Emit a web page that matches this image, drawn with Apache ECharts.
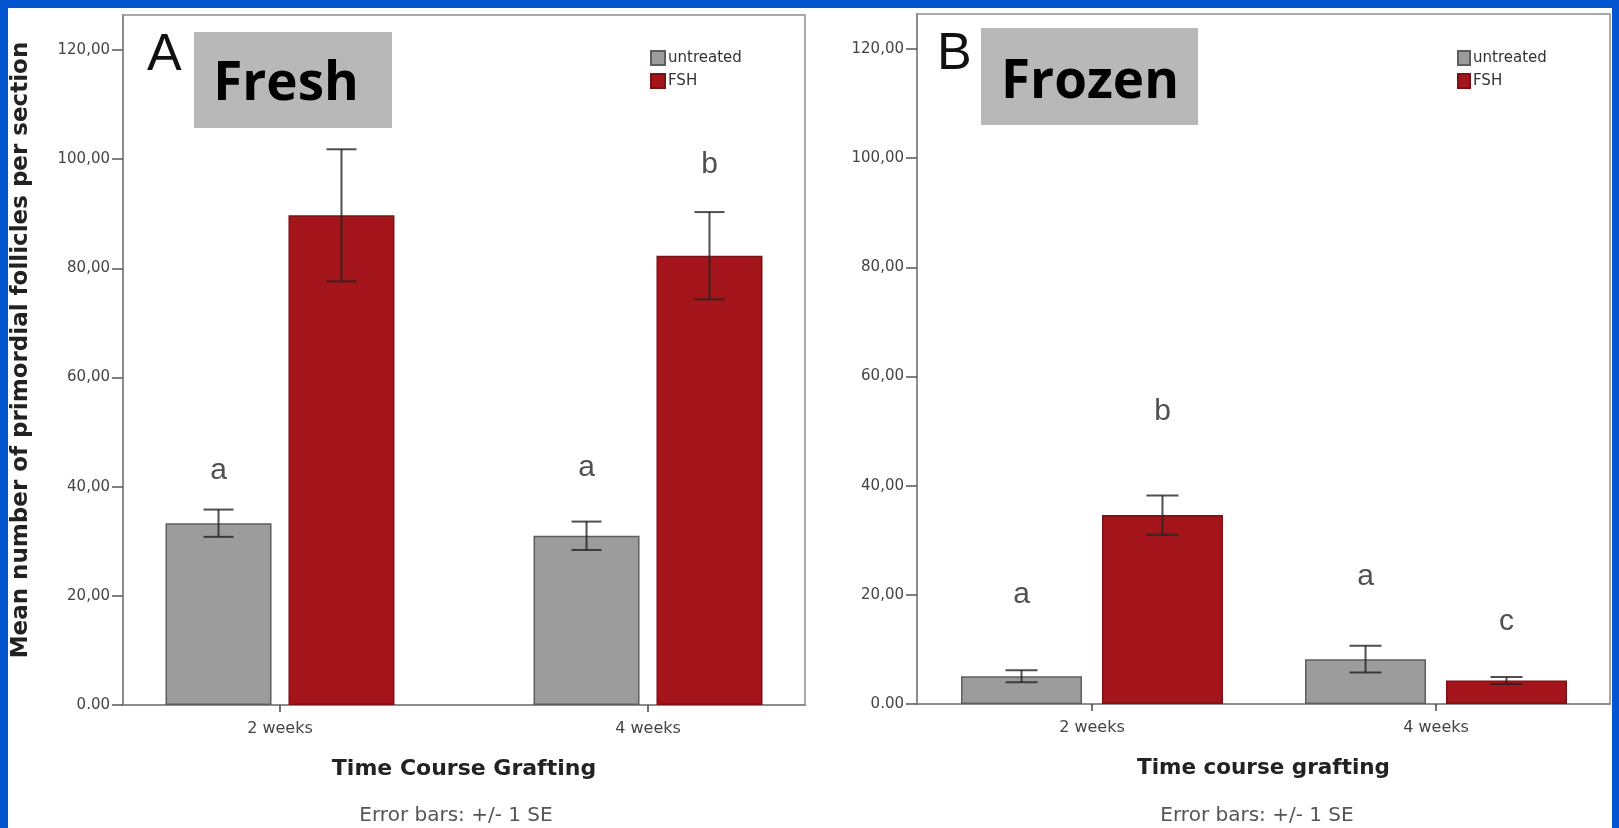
<!DOCTYPE html>
<html><head><meta charset="utf-8">
<script src="https://cdn.jsdelivr.net/npm/echarts@6/dist/echarts.min.js"></script>
<style>html,body{margin:0;padding:0;background:#fff;overflow:hidden} #c{width:1619px;height:828px;}</style>
</head><body><div id="c"></div>
<script>
// ---------- data ----------
const categories = ['2 weeks', '4 weeks'];
const yTickValues = [0, 20, 40, 60, 80, 100, 120];
const yTickLabels = ['0.00', '20,00', '40,00', '60,00', '80,00', '100,00', '120,00'];
const seriesNames = ['untreated', 'FSH'];

const freshUntreatedMean = [33.3, 31.0];
const freshUntreatedSE = [2.5, 2.6];
const freshFSHMean = [89.7, 82.3];
const freshFSHSE = [12.1, 8.0];
const freshUntreatedLetters = ['a', 'a'];
const freshUntreatedLetterY = [42.9, 43.4];
const freshFSHLetters = ['', 'b'];
const freshFSHLetterY = [null, 98.9];

const frozenUntreatedMean = [5.1, 8.2];
const frozenUntreatedSE = [1.1, 2.45];
const frozenFSHMean = [34.6, 4.3];
const frozenFSHSE = [3.6, 0.65];
const frozenUntreatedLetters = ['a', 'a'];
const frozenUntreatedLetterY = [20.0, 23.3];
const frozenFSHLetters = ['b', 'c'];
const frozenFSHLetterY = [53.6, 15.0];

const panelLetters = ['A', 'B'];
const panelTitles = ['Fresh', 'Frozen'];
const xAxisTitles = ['Time Course Grafting', 'Time course grafting'];
const yAxisTitle = 'Mean number of primordial follicles per section';
const errorNote = 'Error bars: +/- 1 SE';

// ---------- styling / layout ----------
const BLUE = '#0254d0';
const GRAY = '#9c9c9c', GRAY_B = '#5e5e5e';
const RED = '#a3151b', RED_B = '#7d1015';
const FRAME = '#a9a9a9';
const AXIS = '#8c8c8c';
const YMAX = 126.4;

const panels = [
  { grid: { left: 123, top: 15, width: 682, height: 690 }, xMin: -0.4266, xMax: 1.4266,
    barWidth: 106, barGap: 0.16, capW: 30, legend: { left: 650, top: 50 },
    um: freshUntreatedMean, us: freshUntreatedSE, fm: freshFSHMean, fs: freshFSHSE,
    ul: freshUntreatedLetters, uly: freshUntreatedLetterY, fl: freshFSHLetters, fly: freshFSHLetterY,
    nameSize: 22 },
  { grid: { left: 917, top: 14, width: 693, height: 690 }, xMin: -0.5087, xMax: 1.5058,
    barWidth: 121, barGap: 0.165, capW: 32, legend: { left: 1457, top: 50 },
    um: frozenUntreatedMean, us: frozenUntreatedSE, fm: frozenFSHMean, fs: frozenFSHSE,
    ul: frozenUntreatedLetters, uly: frozenUntreatedLetterY, fl: frozenFSHLetters, fly: frozenFSHLetterY,
    nameSize: 21.5 }
];

const grids = [], xAxes = [], yAxes = [], series = [], legends = [];

panels.forEach((p, gi) => {
  grids.push(Object.assign({ show: true, borderColor: FRAME, borderWidth: 2, backgroundColor: '#fff', containLabel: false }, p.grid));
  xAxes.push({
    type: 'value', gridIndex: gi, min: p.xMin, max: p.xMax,
    name: xAxisTitles[gi], nameLocation: 'middle', nameGap: 53,
    nameTextStyle: { fontFamily: 'DejaVu Sans', fontWeight: 'bold', fontSize: p.nameSize, color: '#222' },
    axisLine: { show: true, onZero: false, lineStyle: { color: AXIS, width: 2 } },
    axisTick: { show: true, customValues: [0, 1], length: 7, lineStyle: { color: '#444', width: 1.5 } },
    axisLabel: { customValues: [0, 1], margin: 16, fontFamily: 'DejaVu Sans', fontSize: 16, color: '#444',
      formatter: v => categories[Math.round(v)] },
    splitLine: { show: false }
  });
  yAxes.push({
    type: 'value', gridIndex: gi, min: 0, max: YMAX,
    axisLine: { show: true, onZero: false, lineStyle: { color: AXIS, width: 2 } },
    axisTick: { show: true, customValues: yTickValues, length: 11, lineStyle: { color: '#555', width: 1.5 } },
    axisLabel: { customValues: yTickValues, margin: 13, fontFamily: 'DejaVu Sans', fontSize: 15, color: '#444',
      formatter: v => yTickLabels[yTickValues.indexOf(Math.round(v))] },
    splitLine: { show: false }
  });
  const bw = p.barWidth;
  series.push({
    name: seriesNames[0], type: 'bar', xAxisIndex: gi, yAxisIndex: gi,
    barWidth: bw, barGap: (p.barGap * 100) + '%',
    itemStyle: { color: GRAY, borderColor: GRAY_B, borderWidth: 1.5 },
    data: p.um.map((v, i) => [i, v])
  });
  series.push({
    name: seriesNames[1], type: 'bar', xAxisIndex: gi, yAxisIndex: gi,
    barWidth: bw, barGap: (p.barGap * 100) + '%',
    itemStyle: { color: RED, borderColor: RED_B, borderWidth: 1.5 },
    data: p.fm.map((v, i) => [i, v])
  });
  const errDefs = [[p.um, p.us, -1], [p.fm, p.fs, 1]];
  errDefs.forEach(([means, ses, sign]) => {
    series.push({
      type: 'custom', name: 'err', xAxisIndex: gi, yAxisIndex: gi, silent: true, z: 5,
      data: means.map((m, i) => [i, m, ses[i]]),
      renderItem: (params, api) => {
        const x = api.value(0), m = api.value(1), s = api.value(2);
        const off = sign * bw * (1 + p.barGap) / 2;
        const top = api.coord([x, m + s]), bot = api.coord([x, m - s]);
        const cx = top[0] + off, hw = p.capW / 2;
        const st = { stroke: 'rgba(35,35,35,0.8)', lineWidth: 2 };
        return { type: 'group', children: [
          { type: 'line', shape: { x1: cx, y1: top[1], x2: cx, y2: bot[1] }, style: st },
          { type: 'line', shape: { x1: cx - hw, y1: top[1], x2: cx + hw, y2: top[1] }, style: st },
          { type: 'line', shape: { x1: cx - hw, y1: bot[1], x2: cx + hw, y2: bot[1] }, style: st }
        ] };
      }
    });
  });
  const letterDefs = [[p.ul, p.uly, -1], [p.fl, p.fly, 1]];
  letterDefs.forEach(([letters, ys, sign]) => {
    series.push({
      type: 'custom', name: 'letters', xAxisIndex: gi, yAxisIndex: gi, silent: true, z: 6,
      data: letters.map((t, i) => [i, ys[i] == null ? 0 : ys[i], t]),
      renderItem: (params, api) => {
        const i = params.dataIndex;
        if (!letters[i]) return null;
        const pt = api.coord([api.value(0), api.value(1)]);
        const off = sign * bw * (1 + p.barGap) / 2;
        return { type: 'text', x: pt[0] + off, y: pt[1],
          style: { text: letters[i], fill: '#505050', font: '30px "Liberation Sans", Arial, sans-serif',
            align: 'center', verticalAlign: 'middle' } };
      }
    });
  });
  legends.push({
    data: seriesNames, orient: 'vertical', left: p.legend.left, top: p.legend.top,
    itemWidth: gi === 0 ? 14 : 12, itemHeight: 14, itemGap: 7, padding: 0, icon: 'rect',
    selectedMode: false,
    textStyle: { fontFamily: 'DejaVu Sans', fontSize: 15, color: '#333', padding: [0, 0, 0, -2] }
  });
});

const graphics = [
  { type: 'rect', shape: { x: 8, y: 8, width: 1604, height: 820 }, style: { fill: '#fff' }, z: -100, silent: true },
  // y axis title
  { type: 'text', x: 21, y: 350, rotation: Math.PI / 2, z: 10,
    style: { text: yAxisTitle, fill: '#222', font: 'bold 23px "DejaVu Sans", sans-serif', align: 'center', verticalAlign: 'middle' } },
  // panel letters
  { type: 'text', x: 147, y: 56, z: 10,
    style: { text: panelLetters[0], fill: '#111', font: '52px "Liberation Sans", Arial, sans-serif', align: 'left', verticalAlign: 'middle' } },
  { type: 'text', x: 937, y: 55, z: 10,
    style: { text: panelLetters[1], fill: '#111', font: '52px "Liberation Sans", Arial, sans-serif', align: 'left', verticalAlign: 'middle' } },
  // title boxes
  { type: 'rect', shape: { x: 194, y: 32, width: 198, height: 96 }, style: { fill: '#b8b8b8' }, z: 10 },
  { type: 'text', x: 286, y: 85, z: 11,
    style: { text: panelTitles[0], fill: '#000', font: 'bold 53px "Open Sans", sans-serif', align: 'center', verticalAlign: 'middle' } },
  { type: 'rect', shape: { x: 981, y: 28, width: 217, height: 97 }, style: { fill: '#b8b8b8' }, z: 10 },
  { type: 'text', x: 1090, y: 83, z: 11,
    style: { text: panelTitles[1], fill: '#000', font: 'bold 53px "Open Sans", sans-serif', align: 'center', verticalAlign: 'middle' } },
  // error notes
  { type: 'text', x: 456, y: 816, z: 10,
    style: { text: errorNote, fill: '#555', font: '20px "DejaVu Sans", sans-serif', align: 'center', verticalAlign: 'middle' } },
  { type: 'text', x: 1257, y: 816, z: 10,
    style: { text: errorNote, fill: '#555', font: '20px "DejaVu Sans", sans-serif', align: 'center', verticalAlign: 'middle' } }
];

const chart = echarts.init(document.getElementById('c'), null, { renderer: 'canvas' });
chart.setOption({
  animation: false,
  backgroundColor: BLUE,
  grid: grids, xAxis: xAxes, yAxis: yAxes, legend: legends, series: series,
  graphic: graphics
});
</script>
</body></html>
